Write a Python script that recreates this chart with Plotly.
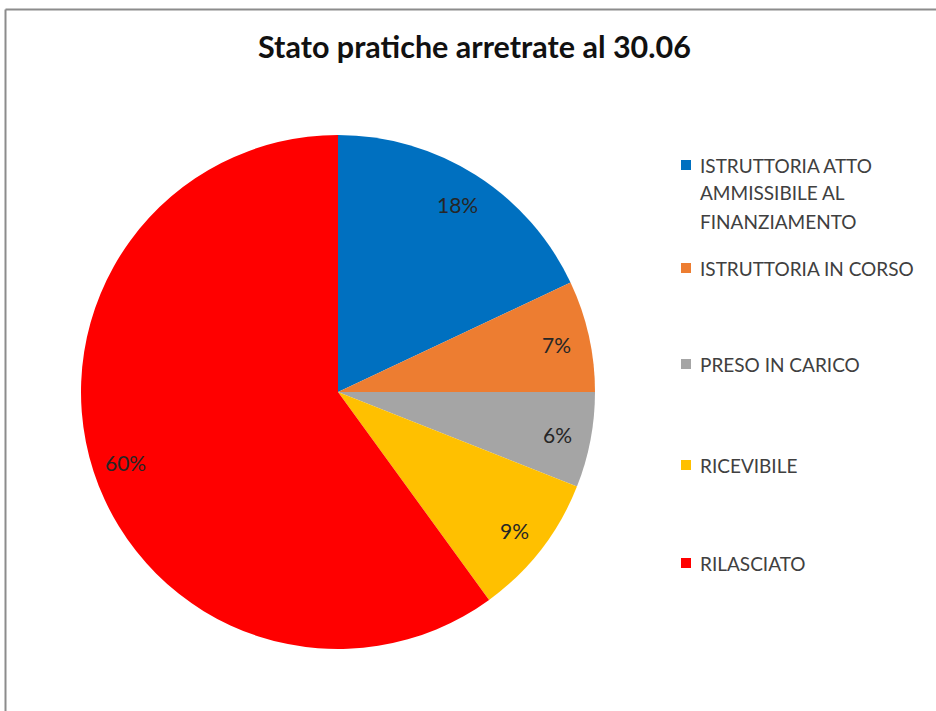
import math
import plotly.graph_objects as go

W, H = 936, 711

title = "Stato pratiche arretrate al 30.06"
labels = ["ISTRUTTORIA ATTO AMMISSIBILE AL FINANZIAMENTO",
          "ISTRUTTORIA IN CORSO",
          "PRESO IN CARICO",
          "RICEVIBILE",
          "RILASCIATO"]
legend_lines = [["ISTRUTTORIA ATTO", "AMMISSIBILE AL", "FINANZIAMENTO"],
                ["ISTRUTTORIA IN CORSO"],
                ["PRESO IN CARICO"],
                ["RICEVIBILE"],
                ["RILASCIATO"]]
values = [18, 7, 6, 9, 60]
colors = ["#0070C0", "#ED7D31", "#A5A5A5", "#FFC000", "#FF0000"]

# geometry (pixels)
cx, cy, R = 338, 392, 257
FONT = "Lato"

fig = go.Figure(go.Pie(
    labels=labels, values=values, sort=False, direction="clockwise",
    rotation=0, marker=dict(colors=colors, line=dict(width=0)),
    textinfo="none", hoverinfo="label+percent", showlegend=False,
    domain=dict(x=[(cx - R) / W, (cx + R) / W],
                y=[1 - (cy + R) / H, 1 - (cy - R) / H]),
))

ann = []
shapes = []
total = sum(values)
cum = 0
for v in values:
    mid = (cum + v / 2) / total * 2 * math.pi
    cum += v
    r = 0.87 * R
    px = cx + r * math.sin(mid)
    py = cy - r * math.cos(mid) + 1
    ann.append(dict(x=px / W, y=1 - py / H, xref="paper", yref="paper",
                    text=f"{round(v / total * 100)}%", showarrow=False,
                    xanchor="center", yanchor="middle",
                    font=dict(family=FONT, size=21, color="#262626")))

# title
ann.append(dict(x=474 / W, y=1 - 46 / H, xref="paper", yref="paper",
                text=f"<b>{title}</b>", showarrow=False,
                xanchor="center", yanchor="middle",
                font=dict(family=FONT, size=30.5, color="#111111")))

# legend
rows = [165, 268, 364, 465, 563]
for lines, col, y0 in zip(legend_lines, colors, rows):
    shapes.append(dict(type="rect", xref="paper", yref="paper",
                       x0=681 / W, x1=691 / W, y0=1 - (y0 - 5) / H, y1=1 - (y0 + 5) / H,
                       fillcolor=col, line=dict(width=0)))
    for i, t in enumerate(lines):
        ann.append(dict(x=698 / W, y=1 - (y0 + 28 * i) / H, xref="paper", yref="paper",
                        text=t, showarrow=False, xanchor="left", yanchor="middle",
                        font=dict(family=FONT, size=19, color="#404040")))

# chart border
shapes.append(dict(type="line", xref="paper", yref="paper",
                   x0=5.5 / W, x1=5.5 / W, y0=1 - 9.5 / H, y1=0,
                   line=dict(color="#8c8c8c", width=2)))
shapes.append(dict(type="line", xref="paper", yref="paper",
                   x0=5.5 / W, x1=1, y0=1 - 9.5 / H, y1=1 - 9.5 / H,
                   line=dict(color="#8c8c8c", width=2)))

fig.update_layout(width=W, height=H, margin=dict(l=0, r=0, t=0, b=0),
                  paper_bgcolor="white", plot_bgcolor="white",
                  annotations=ann, shapes=shapes)

fig.write_html("out.html")
